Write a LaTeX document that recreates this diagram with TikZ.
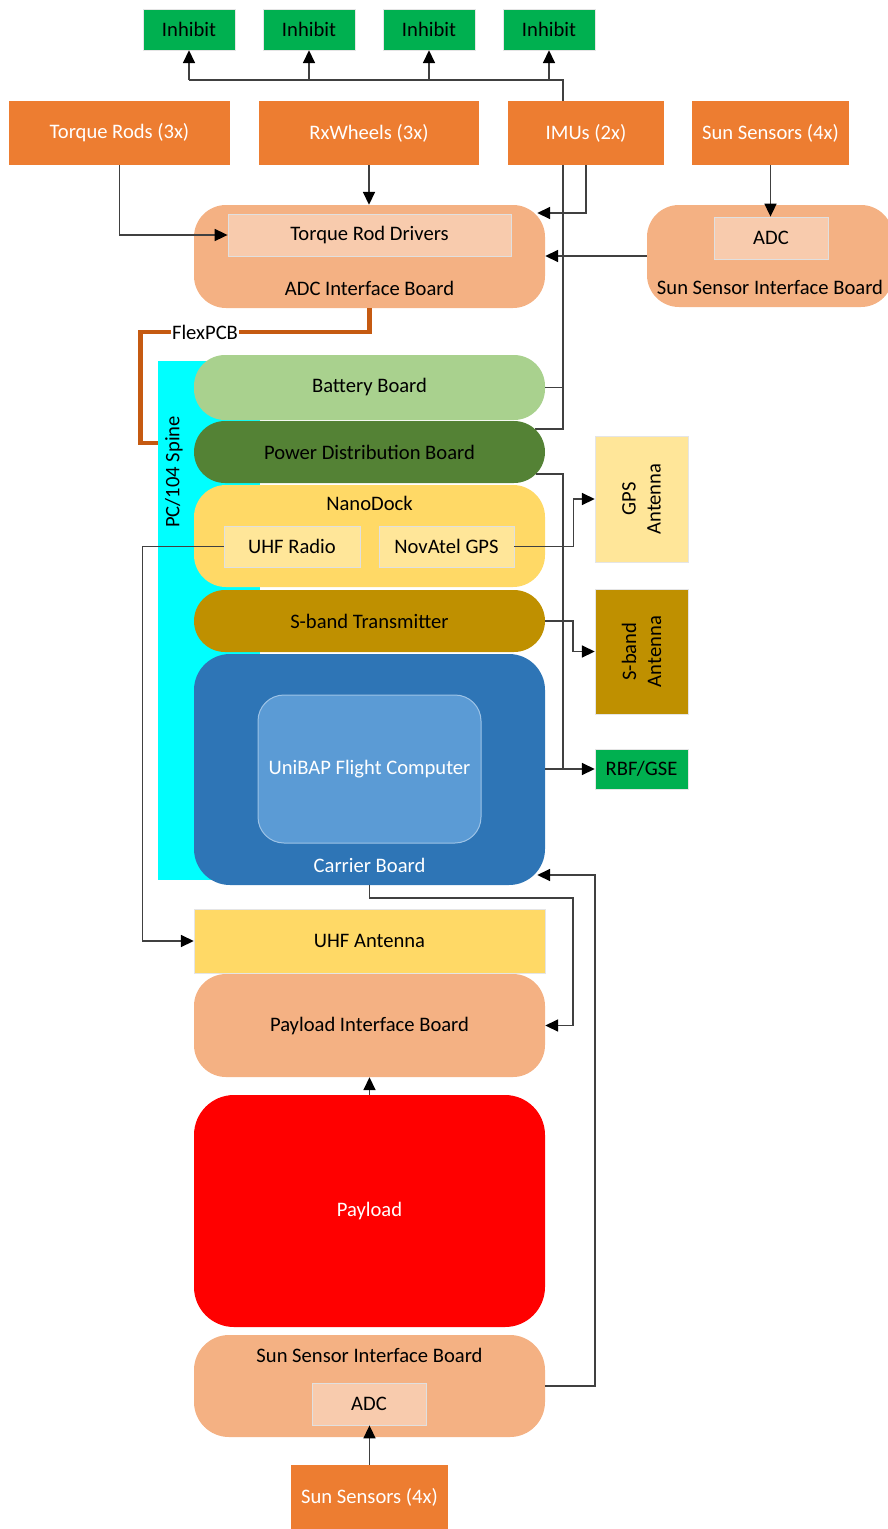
\documentclass[tikz,border=0pt]{standalone}
\usepackage{fontspec}
\setmainfont{Carlito}
\usetikzlibrary{arrows.meta,backgrounds}
\definecolor{satExt}{HTML}{ED7D31}
\definecolor{satInhibit}{HTML}{00B050}
\definecolor{satBoard}{HTML}{F4B183}
\definecolor{satInner}{HTML}{F8CBAD}
\definecolor{satBattery}{HTML}{A9D18E}
\definecolor{satPower}{HTML}{548235}
\definecolor{satDock}{HTML}{FFD966}
\definecolor{satDockIn}{HTML}{FFE699}
\definecolor{satSband}{HTML}{BF9000}
\definecolor{satCarrier}{HTML}{2E75B6}
\definecolor{satComputer}{HTML}{5B9BD5}
\definecolor{satComputerEdge}{HTML}{9DC3E6}
\definecolor{satSpine}{HTML}{00FFFF}
\definecolor{satFlex}{HTML}{C55A11}
\definecolor{satWire}{HTML}{404040}

\begin{document}
\begin{tikzpicture}[
    x=1pt,y=-1pt,
    every node/.style={font=\fontsize{20.6}{25}\selectfont,align=center,inner sep=0pt},
    ext/.style={fill=satExt,text=white,minimum height=64pt},
    inhibit/.style={fill=satInhibit,draw=black!10,minimum width=92pt,minimum height=41pt},
    board/.style={fill=satBoard,rounded corners=32pt,minimum width=351pt},
    inner/.style={fill=satInner,draw=black!12,line width=0.8pt,minimum height=42pt},
    pill/.style={rounded corners=31pt,minimum width=351pt,minimum height=62pt},
    antenna/.style={draw=black!10,minimum width=93pt},
    wire/.style={draw=satWire,line width=1.7pt},
    flow/.style={wire,-{Triangle[length=13pt,width=12pt,color=black]}},
    flex/.style={draw=satFlex,line width=4.5pt}
]
\useasboundingbox (0,0) rectangle (887,1529);
% inhibits and actuators / sensors
\node[inhibit] (inhA) at (189,29.5) {Inhibit};
\node[inhibit] (inhB) at (309,29.5) {Inhibit};
\node[inhibit] (inhC) at (429,29.5) {Inhibit};
\node[inhibit] (inhD) at (549,29.5) {Inhibit};
\node[ext,minimum width=221pt] (torque) at (119.5,133) {Torque Rods (3x)};
\node[ext,minimum width=220pt] (wheels) at (369,133) {RxWheels (3x)};
\node[ext,minimum width=156pt] (imus) at (586,133) {IMUs (2x)};
\node[ext,minimum width=157pt] (sunTop) at (770.5,133) {Sun Sensors (4x)};
\node[board,minimum height=103pt] (adcBoard) at (369.5,256.5) {};
\node[inner,minimum width=283pt] (rodDrivers) at (369.5,235) {Torque Rod Drivers};
\node (adcBoardLbl) at (369.5,288) {ADC Interface Board};
\node[board,minimum width=246pt,minimum height=102pt] (sunBoardTop) at (770,256) {};
\node[inner,minimum width=114pt] (adcTop) at (771,238) {ADC};
\node (sunBoardTopLbl) at (770,287) {Sun Sensor Interface Board};
% PC/104 stack
\node[fill=satSpine,minimum width=102pt,minimum height=519pt] (spine) at (209,620.5) {};
\node[rotate=90] (spineLbl) at (174,472) {PC/104 Spine};
\node[pill,fill=satBattery,minimum height=65pt] (battery) at (369.5,387.5) {Battery Board};
\node[pill,fill=satPower] (power) at (369.5,452) {Power Distribution Board};
\node[board,fill=satDock,minimum height=102pt] (dock) at (369.5,536) {};
\node (dockLbl) at (369.5,503) {NanoDock};
\node[inner,fill=satDockIn,minimum width=136pt,minimum height=41pt] (uhfRadio) at (292,546.5) {UHF Radio};
\node[inner,fill=satDockIn,minimum width=135pt,minimum height=41pt] (gps) at (446.5,546.5) {NovAtel GPS};
\node[pill,fill=satSband] (sband) at (369.5,621) {S-band Transmitter};
\node[board,fill=satCarrier,rounded corners=36pt,minimum height=231pt] (carrier) at (369.5,769.5) {};
\node[fill=satComputer,draw=satComputerEdge,line width=1pt,rounded corners=26pt,minimum width=223pt,minimum height=148pt,text=white] (computer) at (369.5,769) {UniBAP Flight Computer};
\node[text=white] (carrierLbl) at (369.5,865) {Carrier Board};
% antennas
\node[antenna,fill=satDockIn,minimum height=126pt] (gpsAnt) at (641.5,499) {};
\node[rotate=90] (gpsAntLbl) at (gpsAnt) {GPS\\Antenna};
\node[antenna,fill=satSband,minimum height=125pt] (sbandAnt) at (641.5,651.5) {};
\node[rotate=90] (sbandAntLbl) at (sbandAnt) {S-band\\Antenna};
\node[antenna,fill=satInhibit,minimum height=40pt] (rbf) at (641.5,769) {RBF/GSE};
% lower stack
\node[fill=satDock,draw=black!10,minimum width=351pt,minimum height=64pt] (uhfAnt) at (369.5,941) {UHF Antenna};
\node[board,minimum height=103pt] (payloadBoard) at (369.5,1025.5) {Payload Interface Board};
\node[board,fill=red,rounded corners=40pt,minimum height=232pt,text=white] (payload) at (369.5,1211) {Payload};
\node[board,rounded corners=35pt,minimum height=102pt] (sunBoard) at (369.5,1386) {};
\node (sunBoardLbl) at (369.5,1355) {Sun Sensor Interface Board};
\node[inner,minimum width=114pt] (adcBottom) at (369,1404) {ADC};
\node[ext,minimum width=157pt] (sunBottom) at (369.5,1497) {Sun Sensors (4x)};
% connections
\coordinate (bus) at (563,80);
\begin{pgfonlayer}{background}
\draw[wire] ([xshift=-10pt,yshift=23pt]power.east) -| (bus) -- (bus -| inhA);
\end{pgfonlayer}
\foreach \n in {inhA,inhB,inhC,inhD}
  \draw[flow] (bus -| \n) -- (\n.south);
\draw[wire] (battery.east) -- (battery.east -| bus);
\draw[flow] (torque.south) |- (rodDrivers.west);
\draw[flow] (wheels.south) -- (wheels.south |- adcBoard.north);
\draw[flow] (imus.south) |- ([xshift=-8pt,yshift=43.5pt]adcBoard.east);
\draw[flow] (sunTop.south) -- (sunTop.south |- adcTop.north);
\draw[flow] (sunBoardTop.west) -- (sunBoardTop.west -| adcBoard.east);
\draw[flex] (adcBoard.south) -- ++(0,24) -- ++(-229,0) |- ([yshift=177.5pt]spine.west);
\node[fill=white,inner sep=1pt] (flexLbl) at (205,332) {FlexPCB};
\draw[wire] ([xshift=-9pt,yshift=-22pt]power.east) -| (bus |- rbf.west);
\draw[flow] (carrier.east |- rbf.west) -- (rbf.west);
\draw[flow] (gps.east) -- ++(59,0) |- (gpsAnt.west);
\draw[flow] (sband.east) -- ++(28,0) |- (sbandAnt.west);
\draw[flow] (uhfRadio.west) -- ++(-81,0) |- (uhfAnt.west);
\draw[flow] (carrier.south) -- ++(0,13) -- ++(203.5,0) |- (payloadBoard.east);
\draw[flow] (sunBoard.east) -- ++(50,0) |- ([xshift=-8pt,yshift=-105.5pt]carrier.east);
\draw[flow] (payload) -- (payloadBoard);
\draw[flow] (sunBottom.north) -- (sunBottom.north |- adcBottom.south);
\end{tikzpicture}
\end{document}
